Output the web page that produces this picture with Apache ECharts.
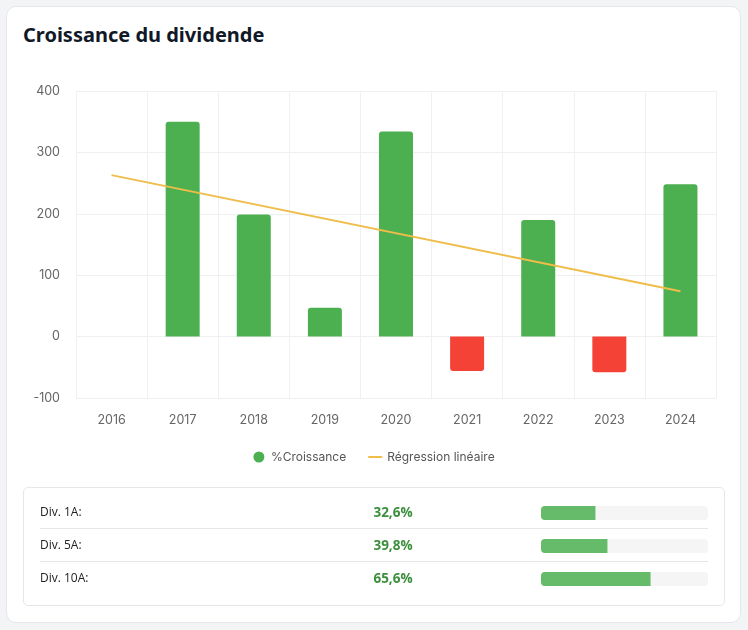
<!DOCTYPE html>
<html>
<head>
<meta charset="utf-8">
<script src="https://cdn.jsdelivr.net/npm/echarts@6/dist/echarts.min.js"></script>
<style>
  html, body { margin: 0; padding: 0; width: 748px; height: 630px; background: #f3f4f6; overflow: hidden; }
  #card { position: absolute; left: 6px; top: 6px; width: 733px; height: 615px; background: #fff; border: 1px solid #e5e7eb; border-radius: 10px; }
  #title { position: absolute; left: 23px; top: 20px; font-family: "Noto Sans", "Open Sans", sans-serif; font-weight: 700; font-size: 20px; color: #111827; line-height: 30px; margin: 0; }
  #tbl { position: absolute; left: 23px; top: 487px; width: 700px; height: 117px; border: 1px solid #e5e7eb; border-radius: 5px; background: #fff; }
  .div { position: absolute; left: 40px; width: 668px; height: 1px; background: #e5e7eb; }
  #chart { position: absolute; left: 0; top: 0; width: 748px; height: 630px; }
</style>
</head>
<body>
<div id="card"></div>
<h1 id="title">Croissance du dividende</h1>
<div id="tbl"></div>
<div class="div" style="top:528px"></div>
<div class="div" style="top:561px"></div>
<div id="chart"></div>
<script>
const years = ['2016', '2017', '2018', '2019', '2020', '2021', '2022', '2023', '2024'];
const growth = [0, 350, 199, 47, 334, -56, 190, -58, 248];
const regression = [263, null, null, null, null, null, null, null, 74];
const yTicks = { min: -100, max: 400, interval: 100 };
const statLabels = ['Div. 1A:', 'Div. 5A:', 'Div. 10A:'];
const statValues = [32.6, 39.8, 65.6];

const GREEN = '#4caf50', RED = '#f44336', LINE = '#eebd4a';
const fmtPct = v => v.toFixed(1).replace('.', ',') + '%';

const chart = echarts.init(document.getElementById('chart'), null, { renderer: 'canvas' });
chart.setOption({
  backgroundColor: 'transparent',
  animation: false,
  textStyle: { fontFamily: 'Inter, "Noto Sans", sans-serif' },
  legend: {
    top: 446, left: 'center', itemGap: 22, itemWidth: 14, itemHeight: 11,
    textStyle: { color: '#555', fontSize: 12, fontFamily: 'Inter, sans-serif' },
    data: [
      { name: '%Croissance', icon: 'circle', itemStyle: { color: GREEN } },
      { name: 'Régression linéaire', icon: 'path://M0,0 L14,0 L14,2 L0,2 Z', itemStyle: { color: LINE } }
    ]
  },
  grid: [
    { left: 76, right: 32, top: 91, bottom: 232 },
    { left: 541, width: 167, top: 496.5, height: 99 }
  ],
  xAxis: [
    {
      gridIndex: 0, type: 'category', data: years, boundaryGap: true,
      axisLine: { show: false, onZero: false }, axisTick: { show: false },
      axisLabel: { color: '#666', fontSize: 12.5, margin: 16 },
      splitLine: { show: true, lineStyle: { color: '#f0f0f0' } }
    },
    {
      gridIndex: 1, type: 'value', min: 0, max: 100, show: false
    }
  ],
  yAxis: [
    {
      gridIndex: 0, type: 'value', min: yTicks.min, max: yTicks.max, interval: yTicks.interval,
      axisLine: { show: false }, axisTick: { show: false },
      axisLabel: { color: '#666', fontSize: 12.5, margin: 16 },
      splitLine: { show: true, lineStyle: { color: '#f0f0f0' } }
    },
    {
      gridIndex: 1, type: 'category', data: statLabels, inverse: true,
      axisLine: { show: false }, axisTick: { show: false }, splitLine: { show: false },
      axisLabel: { margin: 501, align: 'left', color: '#222', fontSize: 12, fontFamily: '"Open Sans", sans-serif' }
    },
    {
      gridIndex: 1, type: 'category', data: statValues.map(fmtPct), inverse: true, position: 'left',
      axisLine: { show: false }, axisTick: { show: false }, splitLine: { show: false },
      axisLabel: { margin: 148, align: 'center', color: '#3d8f3d', fontSize: 13.5, fontWeight: 'bold', fontFamily: '"Open Sans", sans-serif' }
    }
  ],
  series: [
    {
      name: '%Croissance', type: 'bar', xAxisIndex: 0, yAxisIndex: 0, barWidth: 34,
      itemStyle: { color: GREEN },
      data: growth.map(v => ({
        value: v,
        itemStyle: v >= 0
          ? { color: GREEN, borderRadius: [3, 3, 0, 0] }
          : { color: RED, borderRadius: [0, 0, 3, 3] }
      }))
    },
    {
      name: 'Régression linéaire', type: 'line', xAxisIndex: 0, yAxisIndex: 0,
      data: regression, connectNulls: true, symbol: 'none',
      lineStyle: { color: LINE, width: 2 }, itemStyle: { color: LINE }
    },
    {
      name: 'stats', type: 'bar', xAxisIndex: 1, yAxisIndex: 1, barWidth: 14,
      data: statValues,
      itemStyle: { color: '#66bb6a', borderRadius: [4, 0, 0, 4] },
      showBackground: true,
      backgroundStyle: { color: '#f5f5f5', borderRadius: 4 }
    }
  ]
});
</script>
</body>
</html>
